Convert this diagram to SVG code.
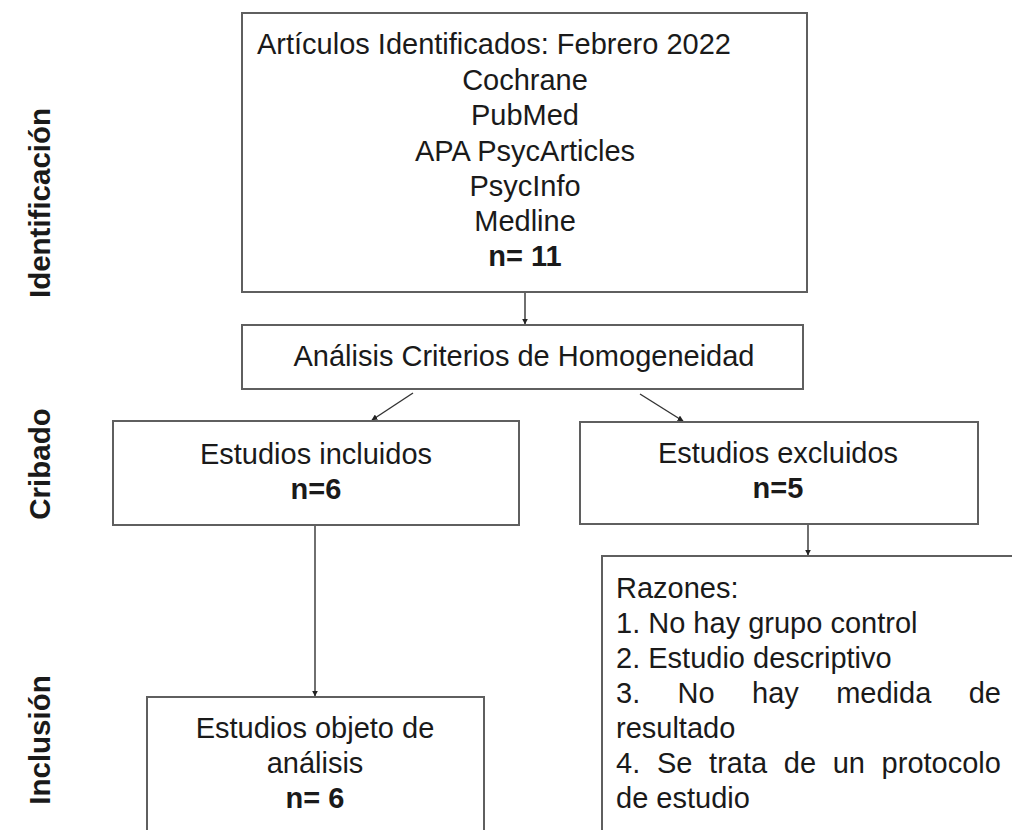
<svg xmlns="http://www.w3.org/2000/svg" width="1012" height="830" viewBox="0 0 1012 830">
<style>
.box{fill:#fff;stroke:#5f5f5f;stroke-width:2}
.t{font-family:"Liberation Sans",Arial,sans-serif;font-size:29px;fill:#1a1a1a}
.c{text-anchor:middle}
.b{font-weight:bold}
.side{font-family:"Liberation Sans",Arial,sans-serif;font-size:29.5px;font-weight:bold;fill:#1a1a1a;text-anchor:middle}
.con{stroke:#333;stroke-width:1.4;fill:none;marker-end:url(#ah)}
</style>
<defs>
<marker id="ah" viewBox="0 0 10 10" refX="9" refY="5" markerWidth="6" markerHeight="6" markerUnits="userSpaceOnUse" orient="auto">
<path d="M0,0 L10,5 L0,10 z" fill="#222"/>
</marker>
</defs>
<rect width="1012" height="830" fill="#fff"/>
<g id="labels">
<text class="side" transform="translate(50,203) rotate(-90)">Identificación</text>
<text class="side" transform="translate(50,464) rotate(-90)">Cribado</text>
<text class="side" transform="translate(50,740) rotate(-90)">Inclusión</text>
</g>
<g id="connectors">
<line class="con" x1="525" y1="292" x2="525" y2="324"/>
<line class="con" x1="413" y1="393" x2="372" y2="420"/>
<line class="con" x1="640" y1="394" x2="683" y2="421"/>
<line class="con" x1="808" y1="524" x2="808" y2="555"/>
<line class="con" x1="315" y1="525" x2="315" y2="696"/>
</g>
<g id="n-identificados">
<rect class="box" x="242" y="13" width="565" height="279"/>
<text class="t" x="257" y="54">Artículos Identificados: Febrero 2022</text>
<text class="t c" x="525" y="89.5">Cochrane</text>
<text class="t c" x="525" y="125">PubMed</text>
<text class="t c" x="525" y="160.5">APA PsycArticles</text>
<text class="t c" x="525" y="195.5">PsycInfo</text>
<text class="t c" x="525" y="230.5">Medline</text>
<text class="t c b" x="525" y="266">n= 11</text>
</g>
<g id="n-analisis">
<rect class="box" x="242" y="325" width="561" height="64"/>
<text class="t c" x="524" y="366">Análisis Criterios de Homogeneidad</text>
</g>
<g id="n-incluidos">
<rect class="box" x="113" y="421" width="406" height="104"/>
<text class="t c" x="316" y="464">Estudios incluidos</text>
<text class="t c b" x="316" y="499">n=6</text>
</g>
<g id="n-excluidos">
<rect class="box" x="580" y="422" width="398" height="102"/>
<text class="t c" x="778" y="463">Estudios excluidos</text>
<text class="t c b" x="778" y="498">n=5</text>
</g>
<g id="n-razones">
<rect class="box" x="602" y="556" width="420" height="290"/>
<text class="t" x="616" y="598">Razones:</text>
<text class="t" x="616" y="633">1. No hay grupo control</text>
<text class="t" x="616" y="668">2. Estudio descriptivo</text>
<text class="t" y="703"><tspan x="616">3.</tspan><tspan x="677.6">No</tspan><tspan x="752.1">hay</tspan><tspan x="836.2">medida</tspan><tspan x="968.7">de</tspan></text>
<text class="t" x="616" y="738">resultado</text>
<text class="t" y="773"><tspan x="616">4.</tspan><tspan x="656.9">Se</tspan><tspan x="709.1">trata</tspan><tspan x="783.8">de</tspan><tspan x="832.7">un</tspan><tspan x="881.6">protocolo</tspan></text>
<text class="t" x="616" y="808">de estudio</text>
</g>
<g id="n-objeto">
<rect class="box" x="147" y="697" width="337" height="150"/>
<text class="t c" x="315" y="738">Estudios objeto de</text>
<text class="t c" x="315" y="773">análisis</text>
<text class="t c b" x="315" y="808">n= 6</text>
</g>
</svg>
